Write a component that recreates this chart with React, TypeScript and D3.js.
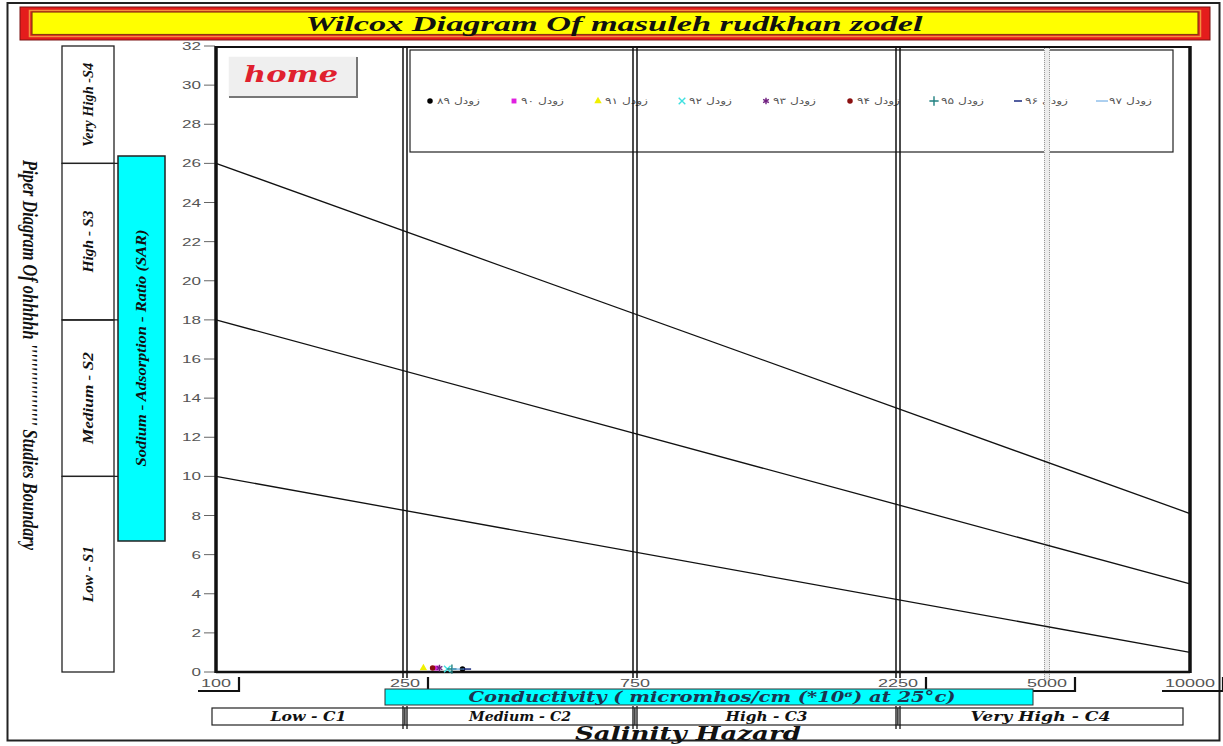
import React from 'react';
import * as d3 from 'd3';

const W = 1223;
const H = 746;

// ---- data ----
const ecTicks = [100, 250, 750, 2250, 5000, 10000];
const ecTickLabels = ['100', '250', '750', '2250', '5000', '10000'];
const bracketTicks = [100, 250, 2250, 5000, 10000];
const sarTicks = [0, 2, 4, 6, 8, 10, 12, 14, 16, 18, 20, 22, 24, 26, 28, 30, 32];

const sClassLabels = ['Low - S1', 'Medium - S2', 'High - S3', 'Very High -S4'];
const sClassBounds = [0, 10, 18, 26, 32];
const cClassLabels = ['Low - C1', 'Medium - C2', 'High - C3', 'Very High - C4'];
const cClassBounds = [100, 250, 750, 2250, 10000];
const cClassTextLen = [76, 102, 82, 140];

const doubleDividers = [250, 750, 2250];
const dottedDividers = [5000];

// Wilcox boundary lines: [EC, SAR] endpoints
const boundaryS3S4 = [[100, 26], [10000, 8.1]];
const boundaryS2S3 = [[100, 18], [10000, 4.5]];
const boundaryS1S2 = [[100, 10], [10000, 1.0]];
const boundaries = [boundaryS3S4, boundaryS2S3, boundaryS1S2];

// samples
const seriesNames = ['زودل ۸۹', 'زودل ۹۰', 'زودل ۹۱', 'زودل ۹۲', 'زودل ۹۳', 'زودل ۹۴', 'زودل ۹۵', 'زودل ۹۶', 'زودل ۹۷'];
const seriesEC = [375, 318, 290, 342, 325, 310, 352, 385, 365];
const seriesSAR = [0.15, 0.2, 0.2, 0.15, 0.2, 0.2, 0.15, 0.15, 0.15];
const seriesColors = ['#000000', '#e020e0', '#f0f000', '#40e0e0', '#702080', '#8b1010', '#208080', '#1a2a80', '#5aa0e0'];
const seriesSymbols = ['circle', 'square', 'triangle', 'times', 'asterisk', 'circle', 'plus', 'dash', 'line'];

// ---- layout ----
const plotL = 216, plotR = 1190, plotT = 46, plotB = 672;

const x = d3.scaleLinear().domain(ecTicks).range([216, 405, 635, 898, 1047, 1190]);
const y = d3.scaleLinear().domain([0, 32]).range([plotB, plotT]);

const serifBI: React.CSSProperties = { fontFamily: '"Liberation Serif", serif', fontWeight: 'bold', fontStyle: 'italic' };
const wideBI: React.CSSProperties = { fontFamily: '"DejaVu Serif", serif', fontWeight: 'bold', fontStyle: 'italic' };

function Marker({ type, color, cx, cy }: { type: string; color: string; cx: number; cy: number }) {
  const t = `translate(${cx},${cy})`;
  if (type === 'dash') return <line x1={cx - 4} x2={cx + 4} y1={cy} y2={cy} stroke={color} strokeWidth={1.5} />;
  if (type === 'line') return <line x1={cx - 6} x2={cx + 6} y1={cy} y2={cy} stroke={color} strokeWidth={1} />;
  const map: Record<string, any> = {
    circle: d3.symbolCircle,
    square: d3.symbolSquare,
    triangle: d3.symbolTriangle,
    times: d3.symbolTimes,
    asterisk: d3.symbolAsterisk,
    plus: d3.symbolPlus,
  };
  const stroked = type === 'times' || type === 'asterisk' || type === 'plus';
  const p = d3.symbol().type(map[type]).size(stroked ? 30 : 24)() as string;
  return stroked ? (
    <path d={p} transform={t} fill="none" stroke={color} strokeWidth={1.4} />
  ) : (
    <path d={p} transform={t} fill={color} />
  );
}

export default function App() {
  const line = d3.line<number[]>().x((d) => x(d[0])).y((d) => y(d[1]));
  const legendX0 = 430;
  const legendStep = 84;
  const legendY = 101;

  return (
    <svg width={W} height={H} style={{ position: 'absolute', left: 0, top: 0, background: '#fff' }}>
      <rect x={0} y={0} width={W} height={H} fill="#fff" />
      {/* outer frame */}
      <rect x={7.5} y={3} width={1212} height={737.5} fill="#fff" stroke="#222" strokeWidth={2} />

      {/* title */}
      <rect x={20} y={7} width={1190} height={33} fill="#e41c1c" stroke="#7a1212" strokeWidth={1} />
      <rect x={29.5} y={10.5} width={1171} height={26} fill="none" stroke="#f29040" strokeWidth={1.5} />
      <rect x={32} y={12} width={1166} height={22.5} fill="#ffff00" stroke="#8a3a10" strokeWidth={1.2} />
      <text x={614} y={30.5} textAnchor="middle" fontSize={22} textLength={617} lengthAdjust="spacingAndGlyphs" style={serifBI} fill="#111">
        Wilcox Diagram Of masuleh rudkhan zodel
      </text>

      {/* left vertical title */}
      <text transform="translate(30,355) rotate(90)" textAnchor="middle" dominantBaseline="central" fontSize={22} textLength={390} lengthAdjust="spacingAndGlyphs" style={serifBI} fill="#111">
        {"Piper Diagram Of ohhhhh ''''''''''''''''''     Studies Boundary"}
      </text>

      {/* S class boxes */}
      {sClassLabels.map((lab, i) => {
        const y0 = y(sClassBounds[i + 1]);
        const y1 = y(sClassBounds[i]);
        return (
          <g key={lab}>
            <rect x={62} y={y0} width={52} height={y1 - y0} fill="#fff" stroke="#222" strokeWidth={1.3} />
            <text transform={`translate(88,${(y0 + y1) / 2}) rotate(-90)`} textAnchor="middle" dominantBaseline="central" fontSize={15} textLength={[56, 92, 62, 84][i]} lengthAdjust="spacingAndGlyphs" style={serifBI} fill="#111">
              {lab}
            </text>
          </g>
        );
      })}
      {sClassBounds.slice(1, 4).map((b) => (
        <line key={b} x1={62} x2={118} y1={y(b)} y2={y(b)} stroke="#222" strokeWidth={1.3} />
      ))}

      {/* SAR label box */}
      <rect x={118} y={156} width={47} height={385} fill="#00ffff" stroke="#222" strokeWidth={1.5} />
      <text transform="translate(141,348) rotate(-90)" textAnchor="middle" dominantBaseline="central" fontSize={15} textLength={237} lengthAdjust="spacingAndGlyphs" style={serifBI} fill="#111">
        Sodium - Adsorption - Ratio (SAR)
      </text>

      {/* y ticks */}
      {sarTicks.map((v) => (
        <g key={v}>
          <line x1={204} x2={215} y1={y(v)} y2={y(v)} stroke="#666" strokeWidth={1} />
          <text x={201} y={y(v) + 4} textAnchor="end" fontSize={11} textLength={String(v).length * 9.5} lengthAdjust="spacingAndGlyphs" fontFamily='"Liberation Sans", sans-serif' fill="#555">
            {v}
          </text>
        </g>
      ))}

      {/* legend */}
      <rect x={410} y={50} width={763} height={102} fill="#fff" stroke="#222" strokeWidth={1.2} />
      {seriesNames.map((nm, i) => {
        const mx = legendX0 + i * legendStep;
        return (
          <g key={nm}>
            <Marker type={seriesSymbols[i]} color={seriesColors[i]} cx={mx} cy={legendY} />
            <text x={mx + 7} y={legendY + 3} fontSize={9} textLength={43} lengthAdjust="spacingAndGlyphs" fontFamily='"DejaVu Sans", sans-serif' fill="#555">
              {nm}
            </text>
          </g>
        );
      })}

      {/* dividers */}
      {dottedDividers.map((v) => (
        <g key={v}>
          <rect x={x(v) - 3} y={plotT} width={6} height={plotB - plotT + 8} fill="#ececec" />
          <line x1={x(v) - 2.5} x2={x(v) - 2.5} y1={plotT} y2={plotB + 8} stroke="#999" strokeWidth={1} strokeDasharray="1,1" />
          <line x1={x(v) + 2.5} x2={x(v) + 2.5} y1={plotT} y2={plotB + 8} stroke="#999" strokeWidth={1} strokeDasharray="1,1" />
        </g>
      ))}
      {doubleDividers.map((v) => (
        <g key={v}>
          <line x1={x(v) - 2} x2={x(v) - 2} y1={plotT} y2={plotB + 6} stroke="#111" strokeWidth={1.5} />
          <line x1={x(v) + 2} x2={x(v) + 2} y1={plotT} y2={plotB + 6} stroke="#111" strokeWidth={1.5} />
        </g>
      ))}

      {/* boundary lines */}
      {boundaries.map((b, i) => (
        <path key={i} d={line(b) as string} fill="none" stroke="#111" strokeWidth={1.3} />
      ))}

      {/* plot frame */}
      <line x1={plotL} x2={plotR} y1={plotT + 1} y2={plotT + 1} stroke="#111" strokeWidth={2} />
      <line x1={plotL} x2={plotL} y1={plotT} y2={plotB + 1} stroke="#111" strokeWidth={3.5} />
      <line x1={plotR} x2={plotR} y1={plotT} y2={plotB + 1} stroke="#111" strokeWidth={3.5} />
      <line x1={plotL} x2={plotR} y1={plotB} y2={plotB} stroke="#111" strokeWidth={2.5} />

      {/* home button */}
      <rect x={228} y={56} width={129} height={41} fill="#efefef" />
      <path d="M228,97 V56 H357" fill="none" stroke="#fff" strokeWidth={1.5} />
      <path d="M229,97 H357 V57" fill="none" stroke="#777" strokeWidth={2} />
      <text x={291} y={82} textAnchor="middle" fontSize={22} textLength={94} lengthAdjust="spacingAndGlyphs" style={wideBI} fill="#e0202e">
        home
      </text>

      {/* sample points */}
      {seriesNames.map((nm, i) => (
        <Marker key={nm} type={seriesSymbols[i]} color={seriesColors[i]} cx={x(seriesEC[i])} cy={y(seriesSAR[i])} />
      ))}

      {/* x tick labels */}
      {ecTicks.map((v, i) => {
        const lab = ecTickLabels[i];
        return (
          <text key={v} x={x(v)} y={687} textAnchor="middle" fontSize={11} textLength={lab.length * 10} lengthAdjust="spacingAndGlyphs" fontFamily='"Liberation Sans", sans-serif' fill="#555">
            {lab}
          </text>
        );
      })}

      {/* x brackets */}
      {bracketTicks.map((v) => {
        const half = ecTickLabels[ecTicks.indexOf(v)].length * 5;
        const bx = x(v) + half + 8;
        return (
          <path key={v} d={`M${x(v) - half - 3},691 H${bx} V677`} fill="none" stroke="#111" strokeWidth={2.2} />
        );
      })}

      {/* conductivity box */}
      <rect x={385} y={689} width={648} height={16} fill="#00ffff" stroke="#333" strokeWidth={1} />
      <text x={712} y={702} textAnchor="middle" fontSize={14} textLength={487} lengthAdjust="spacingAndGlyphs" style={wideBI} fill="#1c3550">
        Conductivity ( micromhos/cm (*10⁶) at 25°c)
      </text>

      {/* C class boxes */}
      {cClassLabels.map((lab, i) => {
        const x0 = i === 0 ? x(cClassBounds[0]) - 4 : x(cClassBounds[i]);
        const x1 = i === 3 ? x(cClassBounds[4]) - 7 : x(cClassBounds[i + 1]);
        return (
          <g key={lab}>
            <rect x={x0} y={708} width={x1 - x0} height={17} fill="#fff" stroke="#222" strokeWidth={1.2} />
            <text x={(x0 + x1) / 2} y={721} textAnchor="middle" fontSize={13} textLength={cClassTextLen[i]} lengthAdjust="spacingAndGlyphs" style={wideBI} fill="#111">
              {lab}
            </text>
          </g>
        );
      })}
      {doubleDividers.map((v) => (
        <g key={v}>
          <line x1={x(v) - 2} x2={x(v) - 2} y1={706} y2={729} stroke="#111" strokeWidth={1.3} />
          <line x1={x(v) + 2} x2={x(v) + 2} y1={706} y2={729} stroke="#111" strokeWidth={1.3} />
        </g>
      ))}
      <text x={688} y={740} textAnchor="middle" fontSize={19} textLength={226} lengthAdjust="spacingAndGlyphs" style={wideBI} fill="#111">
        Salinity  Hazard
      </text>
    </svg>
  );
}
